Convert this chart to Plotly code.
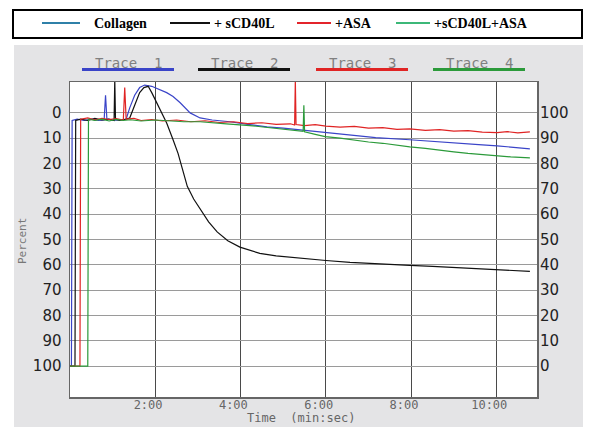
import plotly.graph_objects as go

# ---------------- data (time in seconds, value in percent; left axis reversed) ----------------
tick_secs = [120, 240, 360, 480, 600]
tick_text = ["2:00", "4:00", "6:00", "8:00", "10:00"]
left_ticks = [0, 10, 20, 30, 40, 50, 60, 70, 80, 90, 100]
right_ticks = [0, 10, 20, 30, 40, 50, 60, 70, 80, 90, 100]

t1 = [0, 2, 3, 10, 20, 30, 40, 48, 50, 51, 52, 54, 60, 70, 79, 84, 91, 98, 105, 115, 127, 136,
      145, 155, 169, 183, 200, 225, 250, 277, 300, 324, 350, 394, 430, 478, 520, 549, 575, 601, 625, 647]
v1 = [100, 100, 3, 2.5, 3, 2.5, 3, 2.8, -7, 2.5, 3, 2.5, 3, 2.8, 2.5, -2, -7, -10, -11, -10.5, -9, -8,
      -6.5, -4, 0, 2, 2.8, 3.5, 4.5, 5.5, 6, 6.7, 7.5, 8.8, 9.8, 10.6, 11.5, 12.2, 12.5, 13, 13.6, 14.2]

t2 = [0, 7, 8, 15, 25, 35, 45, 55, 62, 63, 64, 70, 78, 84, 91, 98, 104, 110, 115, 120, 127, 136, 145,
      152, 158, 165, 174, 183, 195, 207, 222, 239, 255, 267, 290, 324, 360, 394, 430, 478, 510, 535,
      570, 605, 630, 647]
v2 = [100, 100, 3, 2.5, 3, 2.2, 2.8, 2.5, 3, -13, 2.5, 3, 2.5, 2, -3, -8, -10, -10.5, -8, -5, -1, 4,
      10.6, 16, 22, 29, 34, 38, 43, 47, 50.5, 53, 54.5, 55.5, 56.5, 57.5, 58.3, 59, 59.6, 60.2, 60.6,
      61, 61.5, 62, 62.6, 62.6]

t3 = [0, 14, 15, 25, 35, 45, 55, 65, 75, 77, 79, 90, 100, 115, 130, 150, 170, 190, 210, 230, 250, 270,
      290, 310, 316, 317, 318, 330, 345, 360, 380, 400, 420, 440, 460, 478, 500, 520, 540, 560, 580,
      601, 615, 630, 647]
v3 = [100, 100, 2.5, 2, 2.8, 2.2, 2.6, 2.3, 2.8, -10, 2.5, 2.2, 3, 2.6, 3.2, 2.8, 3.5, 3.1, 3.8, 3.5,
      4.2, 3.9, 4.5, 4.3, 4.8, -13, 4.6, 5, 4.6, 5.2, 5.6, 5.3, 6, 5.8, 6.5, 6.3, 6.9, 6.6, 7.2, 7, 7.6,
      7.8, 7.4, 7.9, 7.5]

t4 = [0, 25, 26, 35, 45, 55, 65, 75, 85, 100, 120, 140, 160, 183, 200, 220, 253, 270, 290, 310, 324,
      328, 329, 330, 345, 359, 380, 400, 420, 440, 460, 478, 500, 520, 540, 560, 580, 601, 620, 647]
v4 = [100, 100, 2.5, 3, 2.5, 3.2, 2.6, 3, 2.7, 3.2, 2.8, 3.2, 3.5, 3.5, 4, 4.3, 5, 5.5, 6, 6.6, 7,
      7.3, -3, 7.5, 8.5, 9.4, 10, 10.8, 11.5, 12, 12.8, 13.4, 14, 14.8, 15.4, 16, 16.5, 17, 17.4, 17.8]

trace_names = ["Trace  1", "Trace  2", "Trace  3", "Trace  4"]
trace_colors = ["#3a44c8", "#111111", "#e02424", "#2b9a3a"]

legend_labels = ["Collagen", "+ sCD40L", "+ASA", "+sCD40L+ASA"]
legend_colors = ["#2f80a8", "#111111", "#e3242b", "#3cb878"]

# ---------------- geometry helpers (pixel -> paper) ----------------
W, H = 595, 427
L, R, T, B = 70, 58, 82, 30
PW, PH = W - L - R, H - T - B


def px(x):
    return (x - L) / PW


def py(y):
    return (H - B - y) / PH


fig = go.Figure()
series = [(t1, v1), (t2, v2), (t3, v3), (t4, v4)]
for (tt, vv), col, nm in zip(series, trace_colors, trace_names):
    fig.add_trace(go.Scatter(x=tt, y=vv, mode="lines", name=nm,
                             line=dict(color=col, width=1.2), showlegend=False,
                             hoverinfo="skip"))
fig.add_trace(go.Scatter(x=[None], y=[None], yaxis="y2", showlegend=False))

mono = "DejaVu Sans Mono"
bold = dict(family="DejaVu Sans", size=15, color="#222222")

shapes = [
    # gray panel
    dict(type="rect", xref="paper", yref="paper", x0=px(14), x1=px(583), y0=py(440), y1=py(45),
         fillcolor="#e4e4e6", line=dict(width=0), layer="below"),
    # white plot area
    dict(type="rect", xref="paper", yref="paper", x0=0, x1=1, y0=0, y1=1,
         fillcolor="white", line=dict(width=0), layer="below"),
    # legend box
    dict(type="rect", xref="paper", yref="paper", x0=px(13), x1=px(582), y0=py(38), y1=py(10),
         fillcolor="white", line=dict(color="black", width=2)),
]
annotations = []

leg_lines = [(42, 80), (170, 210), (297, 331), (396, 430)]
leg_text_x = [92, 212, 333, 432]
for (a, b), tx, lab, col in zip(leg_lines, leg_text_x, legend_labels, legend_colors):
    shapes.append(dict(type="line", xref="paper", yref="paper", x0=px(a), x1=px(b),
                       y0=py(23), y1=py(23), line=dict(color=col, width=2)))
    annotations.append(dict(text="<b>" + lab + "</b>", xref="paper", yref="paper", x=px(tx), y=py(23),
                            xanchor="left", yanchor="middle", showarrow=False,
                            font=dict(family="Liberation Serif", size=14, color="black")))

hdr_x = [128, 244, 362, 479]
for cx, nm, col in zip(hdr_x, trace_names, trace_colors):
    annotations.append(dict(text=nm, xref="paper", yref="paper", x=px(cx), y=py(63),
                            xanchor="center", yanchor="middle", showarrow=False,
                            font=dict(family=mono, size=14, color="#808080")))
    shapes.append(dict(type="line", xref="paper", yref="paper", x0=px(cx - 46), x1=px(cx + 46),
                       y0=py(69.5), y1=py(69.5), line=dict(color=col, width=3)))

annotations.append(dict(text="Percent", xref="paper", yref="paper", x=px(22), y=py(241),
                        textangle=-90, xanchor="center", yanchor="middle", showarrow=False,
                        font=dict(family=mono, size=11, color="#777777")))
annotations.append(dict(text="Time  (min:sec)", xref="paper", yref="paper", x=px(301), y=py(418),
                        xanchor="center", yanchor="middle", showarrow=False,
                        font=dict(family=mono, size=12, color="#666666")))

fig.update_layout(
    width=W, height=H, margin=dict(l=L, r=R, t=T, b=B, pad=0, autoexpand=False),
    paper_bgcolor="white", plot_bgcolor="rgba(0,0,0,0)",
    shapes=shapes, annotations=annotations,
    xaxis=dict(range=[0, 657], tickvals=tick_secs,
               ticktext=[s + "\u00a0\u00a0" for s in tick_text], showgrid=True,
               gridcolor="#4a4a4a", gridwidth=1, showline=True, linecolor="#666666", linewidth=1.5,
               mirror=True, ticks="", zeroline=False, automargin=False, ticklabelstandoff=-4,
               tickfont=dict(family=mono, size=12, color="#666666")),
    yaxis=dict(range=[112.2, -12.2], tickvals=left_ticks, ticktext=[str(v) for v in left_ticks],
               showgrid=True, gridcolor="#9a9a9a", gridwidth=1, showline=True, linecolor="#666666",
               linewidth=1.5, mirror=True, ticks="", zeroline=False, tickfont=bold,
               ticklabelstandoff=4, automargin=False),
    yaxis2=dict(range=[-12.2, 112.2], overlaying="y", side="right", tickvals=right_ticks,
                ticktext=[str(v) for v in right_ticks], showgrid=False, showline=False,
                ticks="", zeroline=False, tickfont=bold, ticklabelstandoff=2, automargin=False),
)

fig.write_html("out.html", post_script="document.body.style.margin='0';",
               config={"displayModeBar": False, "staticPlot": True})
